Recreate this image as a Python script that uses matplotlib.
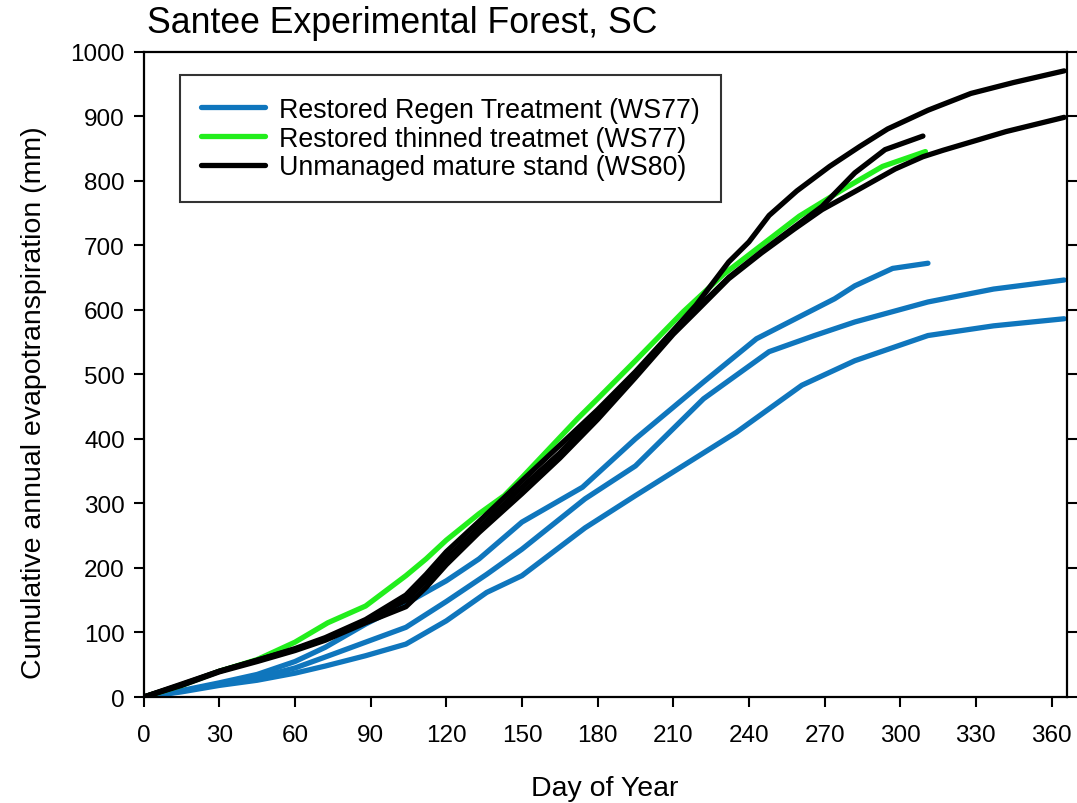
import matplotlib
matplotlib.use("Agg")
import matplotlib.pyplot as plt

plt.rcParams["font.family"] = ["Liberation Sans", "DejaVu Sans"]

# Cumulative evapotranspiration (mm) by day of year, one curve per year of record
regen_a_days = [0, 15, 30, 45, 60, 72, 88, 104, 120, 133, 150, 174, 195, 222, 243, 274, 282, 297, 311]
regen_a_et = [0, 10, 22, 35, 55, 77, 113, 145, 180, 214, 271, 325, 400, 488, 555, 617, 637, 664, 672]

regen_b_days = [0, 15, 30, 45, 60, 72, 88, 104, 120, 136, 150, 175, 195, 222, 248, 266, 282, 311, 337, 365]
regen_b_et = [0, 9, 20, 30, 45, 62, 85, 108, 148, 190, 229, 307, 358, 462, 535, 560, 581, 612, 632, 646]

regen_c_days = [0, 15, 30, 45, 60, 72, 88, 104, 120, 136, 150, 175, 195, 235, 261, 282, 311, 337, 365]
regen_c_et = [0, 8, 18, 26, 37, 48, 64, 82, 118, 162, 188, 262, 312, 410, 483, 521, 560, 575, 586]

thinned_days = [0, 15, 30, 45, 60, 73, 88, 104, 112, 120, 133, 143, 150, 172, 180, 195, 214, 230, 243, 260, 278, 293, 310]
thinned_et = [0, 18, 40, 58, 85, 115, 141, 188, 214, 243, 284, 312, 340, 431, 462, 521, 597, 655, 694, 745, 788, 822, 845]

mature_a_days = [0, 15, 30, 45, 60, 72, 88, 104, 112, 120, 133, 150, 165, 180, 195, 210, 219, 232, 240, 248, 259, 272, 284, 295, 311, 328, 345, 365]
mature_a_et = [0, 20, 40, 57, 75, 92, 120, 158, 190, 225, 272, 335, 390, 445, 504, 568, 607, 674, 705, 746, 784, 822, 853, 880, 909, 935, 952, 970]

mature_b_days = [0, 15, 30, 45, 60, 72, 88, 104, 112, 120, 133, 150, 165, 180, 195, 210, 219, 232, 245, 258, 269, 282, 294, 309]
mature_b_et = [0, 19, 40, 57, 74, 90, 118, 150, 180, 215, 262, 325, 378, 440, 500, 565, 600, 650, 690, 728, 760, 812, 848, 869]

mature_c_days = [0, 15, 30, 45, 60, 72, 88, 104, 112, 120, 133, 150, 165, 180, 195, 210, 219, 232, 245, 258, 269, 282, 298, 309, 317, 342, 365]
mature_c_et = [0, 18, 39, 55, 72, 88, 115, 140, 170, 205, 255, 315, 370, 430, 495, 562, 597, 648, 688, 725, 755, 783, 818, 837, 847, 876, 898]

series_labels = ["Restored Regen Treatment (WS77)",
                 "Restored thinned treatmet (WS77)",
                 "Unmanaged mature stand (WS80)"]
x_ticks = list(range(0, 361, 30))
y_ticks = list(range(0, 1001, 100))

blue = "#0F76BD"
green = "#22EE1C"
black = "#000000"
lw = 3.8

fig = plt.figure(figsize=(10.77, 8.04), dpi=100)
ax = fig.add_axes([0.1334, 0.1318, 0.8570, 0.8029])

line_kw = dict(lw=lw, solid_capstyle="round", solid_joinstyle="round")
h_blue, = ax.plot(regen_a_days, regen_a_et, color=blue, label=series_labels[0], **line_kw)
ax.plot(regen_b_days, regen_b_et, color=blue, **line_kw)
ax.plot(regen_c_days, regen_c_et, color=blue, **line_kw)
h_green, = ax.plot(thinned_days, thinned_et, color=green, label=series_labels[1], **line_kw)
h_black, = ax.plot(mature_a_days, mature_a_et, color=black, label=series_labels[2], **line_kw)
ax.plot(mature_b_days, mature_b_et, color=black, **line_kw)
ax.plot(mature_c_days, mature_c_et, color=black, **line_kw)

ax.set_xlim(0, 366)
ax.set_ylim(0, 1000)
ax.set_xticks(x_ticks)
ax.set_yticks(y_ticks)
ax.tick_params(axis="both", direction="out", length=7.5, width=1.5,
               labelsize=17.5)
ax.tick_params(axis="x", pad=12)
ax.tick_params(axis="y", pad=6, right=True)
for side in ax.spines.values():
    side.set_linewidth(1.6)

ax.set_xlabel("Day of Year", fontsize=20.5)
ax.set_ylabel("Cumulative annual evapotranspiration (mm)", fontsize=20.5)
ax.xaxis.set_label_coords(0.5, -0.121)
ax.yaxis.set_label_coords(-0.105, 0.458)

fig.text(147 / 1077, 1 - 33 / 804, "Santee Experimental Forest, SC",
         fontsize=25.7, ha="left", va="baseline")

leg = ax.legend(handles=[h_blue, h_green, h_black], loc="upper left",
                bbox_to_anchor=(0.039, 0.963), borderaxespad=0,
                fontsize=19.3, frameon=True, fancybox=False,
                handlelength=2.4, handletextpad=0.5, labelspacing=0.1,
                borderpad=0.8)
leg.get_frame().set_edgecolor("black")
leg.get_frame().set_linewidth(1.5)

fig.savefig("out.png", dpi=100)
